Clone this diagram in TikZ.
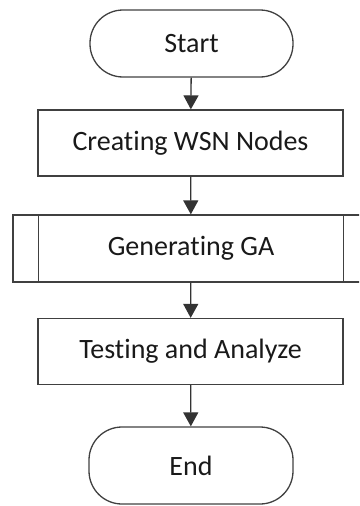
\documentclass[tikz,border=0pt]{standalone}
\usepackage{fontspec}
\setmainfont[Ligatures=CommonOff]{Carlito}
\usetikzlibrary{arrows.meta}
\begin{document}
\begin{tikzpicture}
[x=1pt,y=-1pt,
  terminaldecorate/.style={shape=rectangle,rounded corners=33pt,draw=black!75,line width=1.3pt,
    minimum width=203pt,minimum height=67pt,font=\fontsize{28}{32}\selectfont,text=black!90},%
  processdecorate/.style={shape=rectangle,draw=black!75,line width=1.3pt,
    minimum width=305pt,minimum height=66pt,font=\fontsize{28}{32}\selectfont,text=black!90},%
  subprocessdecorate/.style={processdecorate,minimum width=356pt,minimum height=67pt},%
  arrowdecorate/.style={-{Triangle[width=15pt,length=14pt]},draw=black!80,line width=1.3pt}]
\clip (0,0) rectangle (359,506);
% nodes or vertices
\node (start) at (191.5,43.5) [terminaldecorate] {Start};
\node (create) at (190.5,143) [processdecorate] {Creating WSN Nodes};
\node (ga) at (191,248.5) [subprocessdecorate] {Generating GA};
\node (test) at (190.5,351.5) [processdecorate] {Testing and Analyze};
\node (end) at (191,465.5) [terminaldecorate,minimum height=77pt,minimum width=204pt] {End};
% side bars of the subprocess
\draw[draw=black!75,line width=1.3pt] ([xshift=26pt]ga.north west) -- ([xshift=26pt]ga.south west);
\draw[draw=black!75,line width=1.3pt] ([xshift=-26pt]ga.north east) -- ([xshift=-26pt]ga.south east);
% edges or lines
\path
(start) edge[arrowdecorate] (create)
(create) edge[arrowdecorate] (ga)
(ga) edge[arrowdecorate] (test)
(test) edge[arrowdecorate] (end);
\end{tikzpicture}
\end{document}
